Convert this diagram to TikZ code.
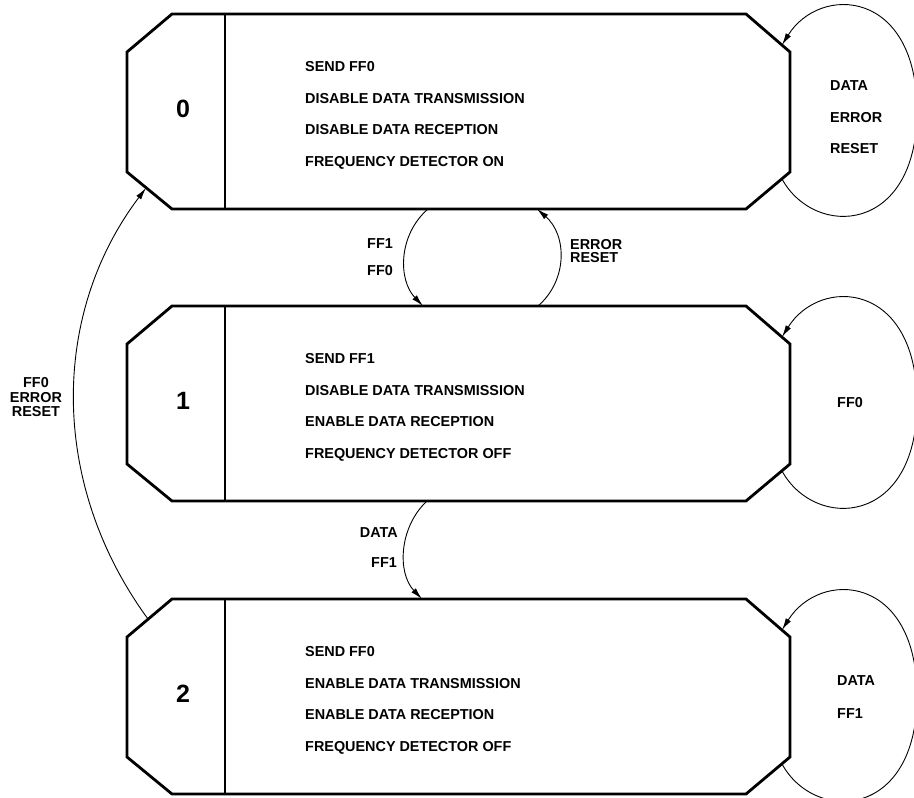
\documentclass[tikz,border=0pt]{standalone}
\usepackage{fontspec}
\setmainfont{Liberation Sans}
\usetikzlibrary{arrows.meta,calc}
\begin{document}
\begin{tikzpicture}[x=1pt,y=-1pt,
  boxnode/.style={draw=none, minimum width=663pt, minimum height=195pt, inner sep=0pt, outer sep=0pt},
  boxline/.style={line width=2.8pt, line join=miter},
  divline/.style={line width=1.3pt},
  conn/.style={line width=0.9pt, -{Latex[length=12pt,width=6pt]}},
  lbl/.style={font=\fontsize{14.4}{16}\selectfont\bfseries, inner sep=0pt},
  num/.style={font=\fontsize{25}{28}\selectfont\bfseries, inner sep=0pt}]
\useasboundingbox (0,0) rectangle (914,798);
\clip (0,0) rectangle (914,798);

% state boxes
\node[boxnode] (b0) at (458.5,111.5) {};
\node[boxnode] (b1) at (458.5,403.5) {};
\node[boxnode] (b2) at (458.5,696.5) {};

\foreach \b in {b0,b1,b2} {
  \draw[boxline] ($(\b.north west)+(45,0)$) -- ($(\b.north east)+(-44,0)$)
    -- ($(\b.north east)+(0,38)$) -- ($(\b.south east)+(0,-37)$)
    -- ($(\b.south east)+(-44,0)$) -- ($(\b.south west)+(45,0)$)
    -- ($(\b.south west)+(0,-37)$) -- ($(\b.north west)+(0,38)$) -- cycle;
  \draw[divline] ($(\b.north west)+(98,0)$) -- ($(\b.south west)+(98,0)$);
}

% state numbers
\node[num] (n0) at ($(b0.west)+(56,-3)$) {0};
\node[num] (n1) at ($(b1.west)+(56,-3)$) {1};
\node[num] (n2) at ($(b2.west)+(56,-3)$) {2};

% box texts
\node[lbl, anchor=base west] (t01) at ($(b0.north west)+(178,57)$) {SEND FF0};
\node[lbl, anchor=base west] (t02) at ($(b0.north west)+(178,89)$) {DISABLE DATA TRANSMISSION};
\node[lbl, anchor=base west] (t03) at ($(b0.north west)+(178,120)$) {DISABLE DATA RECEPTION};
\node[lbl, anchor=base west] (t04) at ($(b0.north west)+(178,152)$) {FREQUENCY DETECTOR ON};

\node[lbl, anchor=base west] (t11) at ($(b1.north west)+(178,57)$) {SEND FF1};
\node[lbl, anchor=base west] (t12) at ($(b1.north west)+(178,89)$) {DISABLE DATA TRANSMISSION};
\node[lbl, anchor=base west] (t13) at ($(b1.north west)+(178,120)$) {ENABLE DATA RECEPTION};
\node[lbl, anchor=base west] (t14) at ($(b1.north west)+(178,152)$) {FREQUENCY DETECTOR OFF};

\node[lbl, anchor=base west] (t21) at ($(b2.north west)+(178,57)$) {SEND FF0};
\node[lbl, anchor=base west] (t22) at ($(b2.north west)+(178,89)$) {ENABLE DATA TRANSMISSION};
\node[lbl, anchor=base west] (t23) at ($(b2.north west)+(178,120)$) {ENABLE DATA RECEPTION};
\node[lbl, anchor=base west] (t24) at ($(b2.north west)+(178,152)$) {FREQUENCY DETECTOR OFF};

% self loops
\foreach \b in {b0,b1,b2} {
  \coordinate (\b out) at ($(\b.north east)+(-8,165)$);
  \coordinate (\b r) at ($(\b.north east)+(127,97)$);
  \coordinate (\b in) at ($(\b.north east)+(-8,31)$);
  \draw[conn] (\b out) .. controls +(33,60) and +(0,123) .. (\b r)
    .. controls +(0,-122) and +(38,-61) .. (\b in);
}

% self loop labels
\node[lbl, anchor=base west] (l01) at ($(b0.north east)+(40,76)$) {DATA};
\node[lbl, anchor=base west] (l02) at ($(b0.north east)+(40,108)$) {ERROR};
\node[lbl, anchor=base west] (l03) at ($(b0.north east)+(40,139)$) {RESET};
\node[lbl, anchor=base west] (l11) at ($(b1.north east)+(47,101)$) {FF0};
\node[lbl, anchor=base west] (l21) at ($(b2.north east)+(47,86)$) {DATA};
\node[lbl, anchor=base west] (l22) at ($(b2.north east)+(47,119)$) {FF1};

% transitions between states
\coordinate (a01s) at ($(b0.south west)+(301,0)$);
\coordinate (a01e) at ($(b1.north west)+(296,0)$);
\draw[conn] (a01s) .. controls +(-30,26) and +(-25,-26) .. (a01e);

\coordinate (a10s) at ($(b1.north west)+(411,0)$);
\coordinate (a10e) at ($(b0.south west)+(410,0)$);
\draw[conn] (a10s) .. controls +(30,-26) and +(30,26) .. (a10e);

\coordinate (a12s) at ($(b1.south west)+(300,0)$);
\coordinate (a12e) at ($(b2.north west)+(295,0)$);
\draw[conn] (a12s) .. controls +(-28,26) and +(-25,-26) .. (a12e);

\coordinate (a20s) at ($(b2.north west)+(21,20)$);
\coordinate (a20e) at ($(b0.south west)+(19,-21)$);
\draw[conn] (a20s) .. controls +(-98,-134) and +(-96,127) .. (a20e);

% transition labels
\node[lbl, anchor=base west] (m1) at (367,248) {FF1};
\node[lbl, anchor=base west] (m2) at (367,275) {FF0};
\node[lbl, anchor=base west] (m3) at (570,249) {ERROR};
\node[lbl, anchor=base west] (m4) at (570,262) {RESET};
\node[lbl, anchor=base east] (m5) at (398,537) {DATA};
\node[lbl, anchor=base east] (m6) at (397,567) {FF1};
\node[lbl, anchor=base] (m7) at (36,387) {FF0};
\node[lbl, anchor=base] (m8) at (36,402) {ERROR};
\node[lbl, anchor=base] (m9) at (36,416) {RESET};
\end{tikzpicture}
\end{document}
